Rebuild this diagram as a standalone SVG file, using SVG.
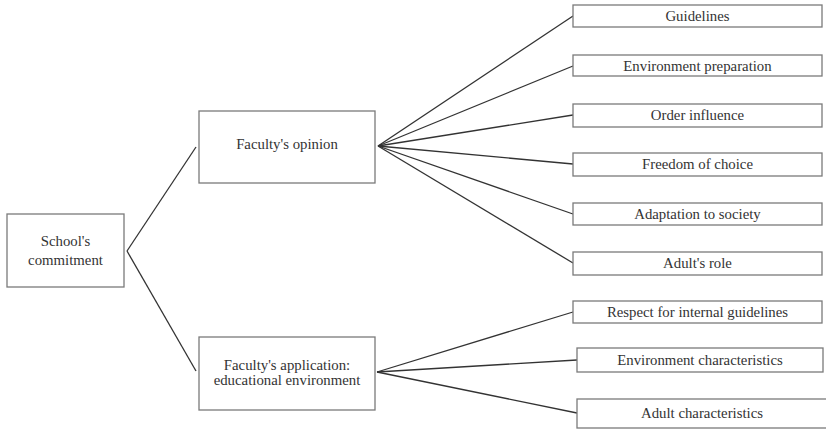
<svg xmlns="http://www.w3.org/2000/svg" width="826" height="429" viewBox="0 0 826 429">
<style>
.box{fill:#fff;stroke:#7a7a7a;stroke-width:1.3}
.t{font-family:"Liberation Serif","Times New Roman",serif;font-size:14.8px;fill:#333;text-anchor:middle}
.c{stroke:#333;stroke-width:1.3;fill:none}
</style>
<rect width="826" height="429" fill="#fff"/>
<g id="connectors">
<line class="c" x1="127" y1="251" x2="196" y2="147"/>
<line class="c" x1="127" y1="251" x2="196" y2="371"/>
<line class="c" x1="378" y1="146" x2="573" y2="16"/>
<line class="c" x1="378" y1="146" x2="573" y2="66"/>
<line class="c" x1="378" y1="146" x2="573" y2="115"/>
<line class="c" x1="378" y1="146" x2="573" y2="164"/>
<line class="c" x1="378" y1="146" x2="573" y2="214"/>
<line class="c" x1="378" y1="146" x2="573" y2="263"/>
<line class="c" x1="377" y1="372" x2="573" y2="312"/>
<line class="c" x1="377" y1="372" x2="577" y2="360"/>
<line class="c" x1="377" y1="372" x2="577" y2="413"/>
</g>
<g id="school">
<rect class="box" x="7" y="214" width="117" height="73"/>
<text class="t" x="65.5" y="246">School's</text>
<text class="t" x="65.5" y="265">commitment</text>
</g>
<g id="opinion">
<rect class="box" x="199" y="111" width="176" height="72"/>
<text class="t" x="287" y="149">Faculty's opinion</text>
</g>
<g id="application">
<rect class="box" x="199" y="337" width="176" height="73"/>
<text class="t" x="287" y="370">Faculty's application:</text>
<text class="t" x="287" y="385">educational environment</text>
</g>
<g id="guidelines">
<rect class="box" x="573" y="5" width="249" height="22"/>
<text class="t" x="697.5" y="21">Guidelines</text>
</g>
<g id="envprep">
<rect class="box" x="573" y="55" width="249" height="21"/>
<text class="t" x="697.5" y="70.5">Environment preparation</text>
</g>
<g id="order">
<rect class="box" x="573" y="104" width="249" height="23"/>
<text class="t" x="697.5" y="120">Order influence</text>
</g>
<g id="freedom">
<rect class="box" x="573" y="153" width="249" height="23"/>
<text class="t" x="697.5" y="169">Freedom of choice</text>
</g>
<g id="adaptation">
<rect class="box" x="573" y="203" width="249" height="22"/>
<text class="t" x="697.5" y="219">Adaptation to society</text>
</g>
<g id="adultrole">
<rect class="box" x="573" y="252" width="249" height="23"/>
<text class="t" x="697.5" y="268">Adult's role</text>
</g>
<g id="respect">
<rect class="box" x="573" y="301" width="249" height="22"/>
<text class="t" x="697.5" y="317">Respect for internal guidelines</text>
</g>
<g id="envchar">
<rect class="box" x="577" y="348" width="246" height="24"/>
<text class="t" x="700" y="364.5">Environment characteristics</text>
</g>
<g id="adultchar">
<rect class="box" x="577" y="399" width="252" height="29"/>
<text class="t" x="702" y="418">Adult characteristics</text>
</g>
</svg>
